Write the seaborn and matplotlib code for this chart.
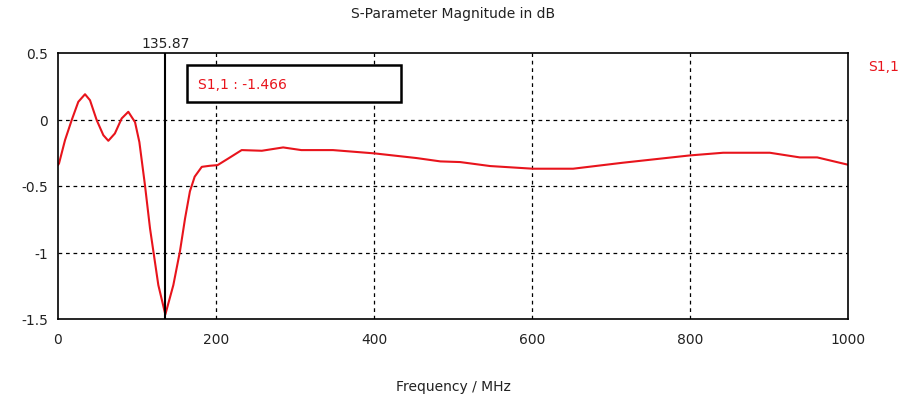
import matplotlib
matplotlib.use("Agg")
import matplotlib.pyplot as plt
from matplotlib.patches import Rectangle
import seaborn as sns
import pandas as pd

# S11 magnitude (dB) versus frequency (MHz)
freq_mhz = [0, 1.3, 8.9, 17.3, 25.7, 34.2, 40.5, 49, 57.4, 63.7, 72, 80.6, 89,
            97.5, 103, 110, 116.5, 120.7, 127, 135.87, 146, 154.4, 160.8, 167,
            173, 182, 192, 202, 215.6, 232.5, 258, 285, 308, 325, 348, 401,
            454, 484, 509, 547, 601, 652, 715, 800, 842, 901, 939, 961, 1000]
s11_db = [-0.343, -0.33, -0.155, -0.005, 0.133, 0.19, 0.145, -0.005, -0.118,
          -0.16, -0.105, 0.008, 0.058, -0.02, -0.17, -0.49, -0.82, -0.99,
          -1.245, -1.466, -1.245, -0.99, -0.745, -0.54, -0.43, -0.356,
          -0.348, -0.343, -0.293, -0.23, -0.235, -0.21, -0.23, -0.23, -0.23,
          -0.255, -0.29, -0.315, -0.32, -0.35, -0.37, -0.37, -0.325, -0.27,
          -0.25, -0.25, -0.285, -0.285, -0.34]

marker_freq = 135.87
marker_value = -1.466

x_ticks = [0, 200, 400, 600, 800, 1000]
y_ticks = [-1.5, -1, -0.5, 0, 0.5]
y_tick_labels = ["-1.5", "-1", "-0.5", "0", "0.5"]

W, H = 909, 402

sns.set_style("white")
plt.rcParams["font.family"] = ["DejaVu Sans"]

fig = plt.figure(figsize=(W / 100, H / 100), dpi=100)
ax = fig.add_axes([58 / W, 1 - 320 / H, 790 / W, 266 / H])

df = pd.DataFrame({"Frequency / MHz": freq_mhz, "S1,1": s11_db})
sns.lineplot(data=df, x="Frequency / MHz", y="S1,1", ax=ax,
             color="#e8141c", linewidth=1.5, legend=False)

ax.set_xlim(0, 1000)
ax.set_ylim(-1.5, 0.5)
ax.set_xticks(x_ticks)
ax.set_yticks(y_ticks)
ax.set_yticklabels(y_tick_labels)
ax.tick_params(axis="both", direction="out", length=4, width=1, color="black",
               labelsize=10, labelcolor="#222222", pad=3)
ax.tick_params(axis="x", pad=5)

for v in x_ticks[1:-1]:
    ax.axvline(v, color="black", linewidth=0.9, linestyle=(0, (3, 3)), zorder=1)
for v in y_ticks[1:-1]:
    ax.axhline(v, color="black", linewidth=0.9, linestyle=(0, (3, 3)), zorder=1)

for side in ["left", "right", "top", "bottom"]:
    ax.spines[side].set_visible(True)
    ax.spines[side].set_color("black")
    ax.spines[side].set_linewidth(1.2)

ax.set_xlabel("Frequency / MHz", fontsize=10, color="#222222", labelpad=24)
ax.set_ylabel("")
ax.set_title("S-Parameter Magnitude in dB", fontsize=10, color="#222222", pad=26)

# marker at the resonance minimum
ax.axvline(marker_freq, color="black", linewidth=1.5, zorder=3)
ax.text(marker_freq, 1.012, f"{marker_freq:.2f}", transform=ax.get_xaxis_transform(),
        ha="center", va="bottom", fontsize=10, color="#222222")

# marker readout box
fig.add_artist(Rectangle((187 / W, 1 - 103 / H), 214 / W, 37 / H,
                         transform=fig.transFigure, facecolor="white",
                         edgecolor="black", linewidth=1.8, zorder=5))
fig.text(198 / W, 1 - 85 / H, f"S1,1 : {marker_value:.3f}", ha="left",
         va="center", fontsize=10, color="#e8141c", zorder=6)

fig.text(868 / W, 1 - 67 / H, "S1,1", ha="left", va="center",
         fontsize=10, color="#e8141c")

fig.savefig("out.png", dpi=100, facecolor="white")
